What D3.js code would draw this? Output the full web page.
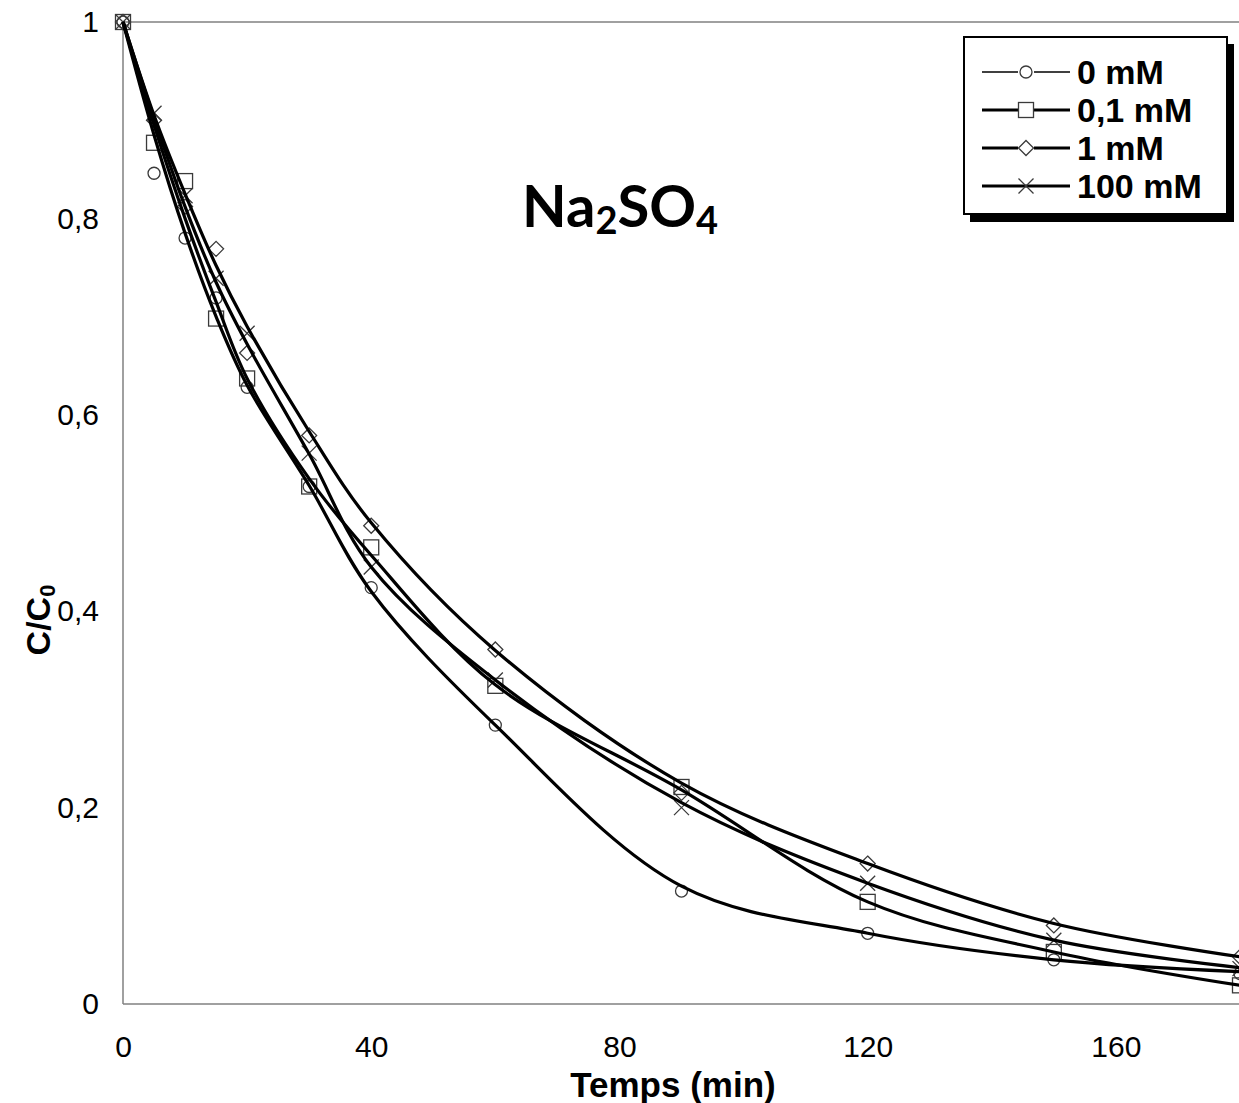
<!DOCTYPE html>
<html>
<head>
<meta charset="utf-8">
<script src="https://cdn.jsdelivr.net/npm/d3@7"></script>
<style>
  html, body { margin: 0; padding: 0; background: #fff; }
  svg { display: block; }
</style>
</head>
<body>
<svg id="chart" width="1239" height="1103"></svg>
<script>
// ---- Data ----
const times = [0, 5, 10, 15, 20, 30, 40, 60, 90, 120, 150, 180];
const seriesNames = ["0 mM", "0,1 mM", "1 mM", "100 mM"];
// measured points (markers)
const s0mM   = [1, 0.846, 0.780, 0.719, 0.628, 0.527, 0.424, 0.284, 0.115, 0.072, 0.045, 0.031];
const s01mM  = [1, 0.877, 0.838, 0.698, 0.637, 0.527, 0.465, 0.324, 0.221, 0.104, 0.053, 0.019];
const s1mM   = [1, 0.900, 0.812, 0.769, 0.663, 0.579, 0.487, 0.361, 0.215, 0.143, 0.080, 0.048];
const s100mM = [1, 0.907, 0.823, 0.739, 0.683, 0.561, 0.445, 0.330, 0.200, 0.123, 0.065, 0.036];
// smoothed curves (lines)
const l0mM   = [1, 0.885, 0.785, 0.700, 0.630, 0.528, 0.420, 0.284, 0.120, 0.072, 0.045, 0.033];
const l01mM  = [1, 0.895, 0.800, 0.715, 0.637, 0.535, 0.457, 0.325, 0.218, 0.104, 0.053, 0.019];
const l1mM   = [1, 0.905, 0.825, 0.752, 0.690, 0.583, 0.490, 0.360, 0.225, 0.143, 0.082, 0.048];
const l100mM = [1, 0.902, 0.812, 0.735, 0.672, 0.560, 0.445, 0.330, 0.205, 0.123, 0.065, 0.037];
const xTicks = [0, 40, 80, 120, 160];
const yTicks = [0, 0.2, 0.4, 0.6, 0.8, 1];
const markerTypes = ["circle", "square", "diamond", "cross"];

const markerVals = [s0mM, s01mM, s1mM, s100mM];
const lineVals = [l0mM, l01mM, l1mM, l100mM];
const allSeries = seriesNames.map((name, i) => ({
  name,
  marker: markerTypes[i],
  points: times.map((t, j) => ({ t, v: markerVals[i][j] })),
  curve: times.map((t, j) => ({ t, v: lineVals[i][j] }))
}));

// ---- Layout ----
const svg = d3.select("#chart");
const x = d3.scaleLinear().domain([0, 180]).range([123, 1240]);
const y = d3.scaleLinear().domain([0, 1]).range([1004, 22]);
const axisColor = "#808080";
const markerColor = "#3a3a3a";

// plot frame: left, bottom, top
svg.append("line").attr("x1", x(0)).attr("x2", x(0)).attr("y1", y(0)).attr("y2", y(1))
  .attr("stroke", axisColor).attr("stroke-width", 1.5);
svg.append("line").attr("x1", x(0)).attr("x2", 1239).attr("y1", y(0)).attr("y2", y(0))
  .attr("stroke", axisColor).attr("stroke-width", 1.5);
svg.append("line").attr("x1", x(0)).attr("x2", 1239).attr("y1", y(1)).attr("y2", y(1))
  .attr("stroke", axisColor).attr("stroke-width", 1.5);

// axes via d3 (no tick lines, no domain)
const fmt = d => String(d).replace(".", ",");
const xAxis = svg.append("g").attr("transform", `translate(0,${y(0)})`)
  .call(d3.axisBottom(x).tickValues(xTicks).tickSize(0).tickPadding(32).tickFormat(fmt));
const yAxis = svg.append("g").attr("transform", `translate(${x(0)},0)`)
  .call(d3.axisLeft(y).tickValues(yTicks).tickSize(0).tickPadding(24).tickFormat(fmt));
[xAxis, yAxis].forEach(g => {
  g.select(".domain").remove();
  g.selectAll("text").attr("font-family", "'Liberation Sans', Arial, sans-serif")
    .attr("font-size", 30).attr("fill", "#000");
});

// markers
function drawMarker(g, type, cx, cy) {
  let el;
  if (type === "circle") {
    el = g.append("circle").attr("cx", cx).attr("cy", cy).attr("r", 6);
  } else if (type === "square") {
    const s = 7.5;
    el = g.append("rect").attr("x", cx - s).attr("y", cy - s).attr("width", 2 * s).attr("height", 2 * s);
  } else if (type === "diamond") {
    const s = 7.5;
    el = g.append("path").attr("d", `M${cx},${cy - s}L${cx + s},${cy}L${cx},${cy + s}L${cx - s},${cy}Z`);
  } else {
    const s = 7.5;
    el = g.append("path").attr("d", `M${cx - s},${cy - s}L${cx + s},${cy + s}M${cx - s},${cy + s}L${cx + s},${cy - s}`);
  }
  el.attr("stroke", markerColor).attr("stroke-width", 1.3).attr("fill", "none");
}

const plot = svg.append("g");
const lineGen = d3.line().x(d => x(d.t)).y(d => y(d.v)).curve(d3.curveCatmullRom.alpha(0.5));

allSeries.forEach(s => {
  const g = plot.append("g");
  s.points.forEach(p => drawMarker(g, s.marker, x(p.t), y(p.v)));
});
allSeries.forEach(s => {
  plot.append("path").datum(s.curve).attr("d", lineGen)
    .attr("fill", "none").attr("stroke", "#000").attr("stroke-width", 3.2)
    .attr("stroke-linejoin", "round");
});

// axis titles
svg.append("text").attr("x", 673).attr("y", 1097).attr("text-anchor", "middle")
  .attr("font-family", "'Liberation Sans', Arial, sans-serif").attr("font-weight", "bold")
  .attr("font-size", 35).text("Temps (min)");

const yt = svg.append("text").attr("transform", "translate(50,620) rotate(-90)")
  .attr("text-anchor", "middle")
  .attr("font-family", "'Liberation Sans', Arial, sans-serif").attr("font-weight", "bold")
  .attr("font-size", 34);
yt.append("tspan").text("C/C");
yt.append("tspan").attr("font-size", 22).attr("dy", 5).text("0");

// chart label
const lab = svg.append("text").attr("x", 522).attr("y", 227)
  .attr("font-family", "Lato, 'Open Sans', sans-serif").attr("font-weight", "bold")
  .attr("font-size", 58).attr("fill", "#000");
lab.append("tspan").text("Na");
lab.append("tspan").attr("font-size", 38).attr("dy", 7).text("2");
lab.append("tspan").attr("dy", -7).text("SO");
lab.append("tspan").attr("font-size", 38).attr("dy", 7).text("4");

// legend
const lg = svg.append("g");
lg.append("rect").attr("x", 970).attr("y", 44).attr("width", 264).attr("height", 178).attr("fill", "#000");
lg.append("rect").attr("x", 964).attr("y", 37).attr("width", 263).attr("height", 177)
  .attr("fill", "#fff").attr("stroke", "#000").attr("stroke-width", 2);
const rowY = [72, 110, 148, 186];
allSeries.forEach((s, i) => {
  lg.append("line").attr("x1", 982).attr("x2", 1070).attr("y1", rowY[i]).attr("y2", rowY[i])
    .attr("stroke", "#000").attr("stroke-width", i === 0 ? 1.6 : 3);
  const mg = lg.append("g");
  if (s.marker !== "cross") {
    mg.append("rect").attr("x", 1018).attr("y", rowY[i] - 8).attr("width", 16).attr("height", 16).attr("fill", "#fff");
  }
  drawMarker(mg, s.marker, 1026, rowY[i]);
  lg.append("text").attr("x", 1077).attr("y", rowY[i] + 12)
    .attr("font-family", "'Liberation Sans', Arial, sans-serif").attr("font-weight", "bold")
    .attr("font-size", 34).text(s.name);
});
</script>
</body>
</html>
